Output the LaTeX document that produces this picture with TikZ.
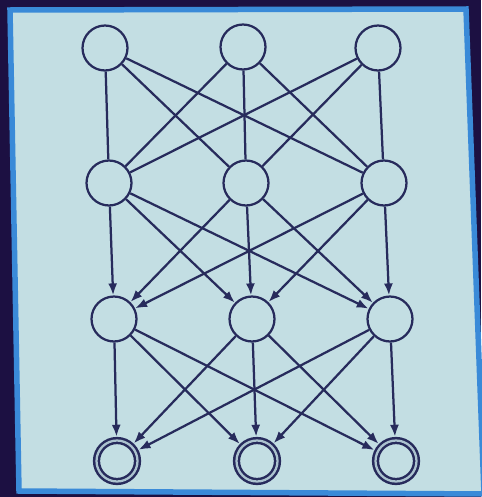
\documentclass[tikz,border=0pt]{standalone}
\usetikzlibrary{arrows.meta}
\definecolor{outer}{HTML}{1C1042}
\definecolor{frameblue}{HTML}{3A8AD8}
\definecolor{screen}{HTML}{C3DEE3}
\definecolor{ink}{HTML}{272B5C}
\tikzset{
  neuron/.style={circle, draw=ink, fill=screen, line width=0.045cm, minimum size=0.9cm, inner sep=0pt},
  outneuron/.style={circle, draw=ink, double=screen!85!ink, double distance=0.045cm, line width=0.05cm, fill=screen, minimum size=0.82cm, inner sep=0pt, outer sep=0.075cm},
  link/.style={draw=ink, line width=0.045cm},
  arrowlink/.style={link, -{Latex[length=0.24cm,width=0.18cm]}}
}
\begin{document}
\begin{tikzpicture}[x=0.02cm,y=-0.02cm]
\useasboundingbox (0,0) rectangle (481,497);
\fill[outer] (0,0) rectangle (481,497);
\fill[screen, draw=frameblue, line width=0.11cm] (10,10) -- (466,9) -- (484,494) -- (19,491) -- cycle;

\node[neuron] (a1) at (105,48) {};
\node[neuron] (a2) at (243,47) {};
\node[neuron] (a3) at (378,48) {};
\node[neuron] (b1) at (109,183) {};
\node[neuron] (b2) at (246,183) {};
\node[neuron] (b3) at (384,183) {};
\node[neuron] (c1) at (114,319) {};
\node[neuron] (c2) at (252,319) {};
\node[neuron] (c3) at (390,319) {};
\node[outneuron] (d1) at (117,461) {};
\node[outneuron] (d2) at (257,461) {};
\node[outneuron] (d3) at (396,461) {};

\foreach \i in {1,2,3}{
  \foreach \j in {1,2,3}{
    \path[link] (a\i) -- (b\j);
    \path[arrowlink] (b\i) -- (c\j);
    \path[arrowlink] (c\i) -- (d\j);
  }
}
\end{tikzpicture}
\end{document}
